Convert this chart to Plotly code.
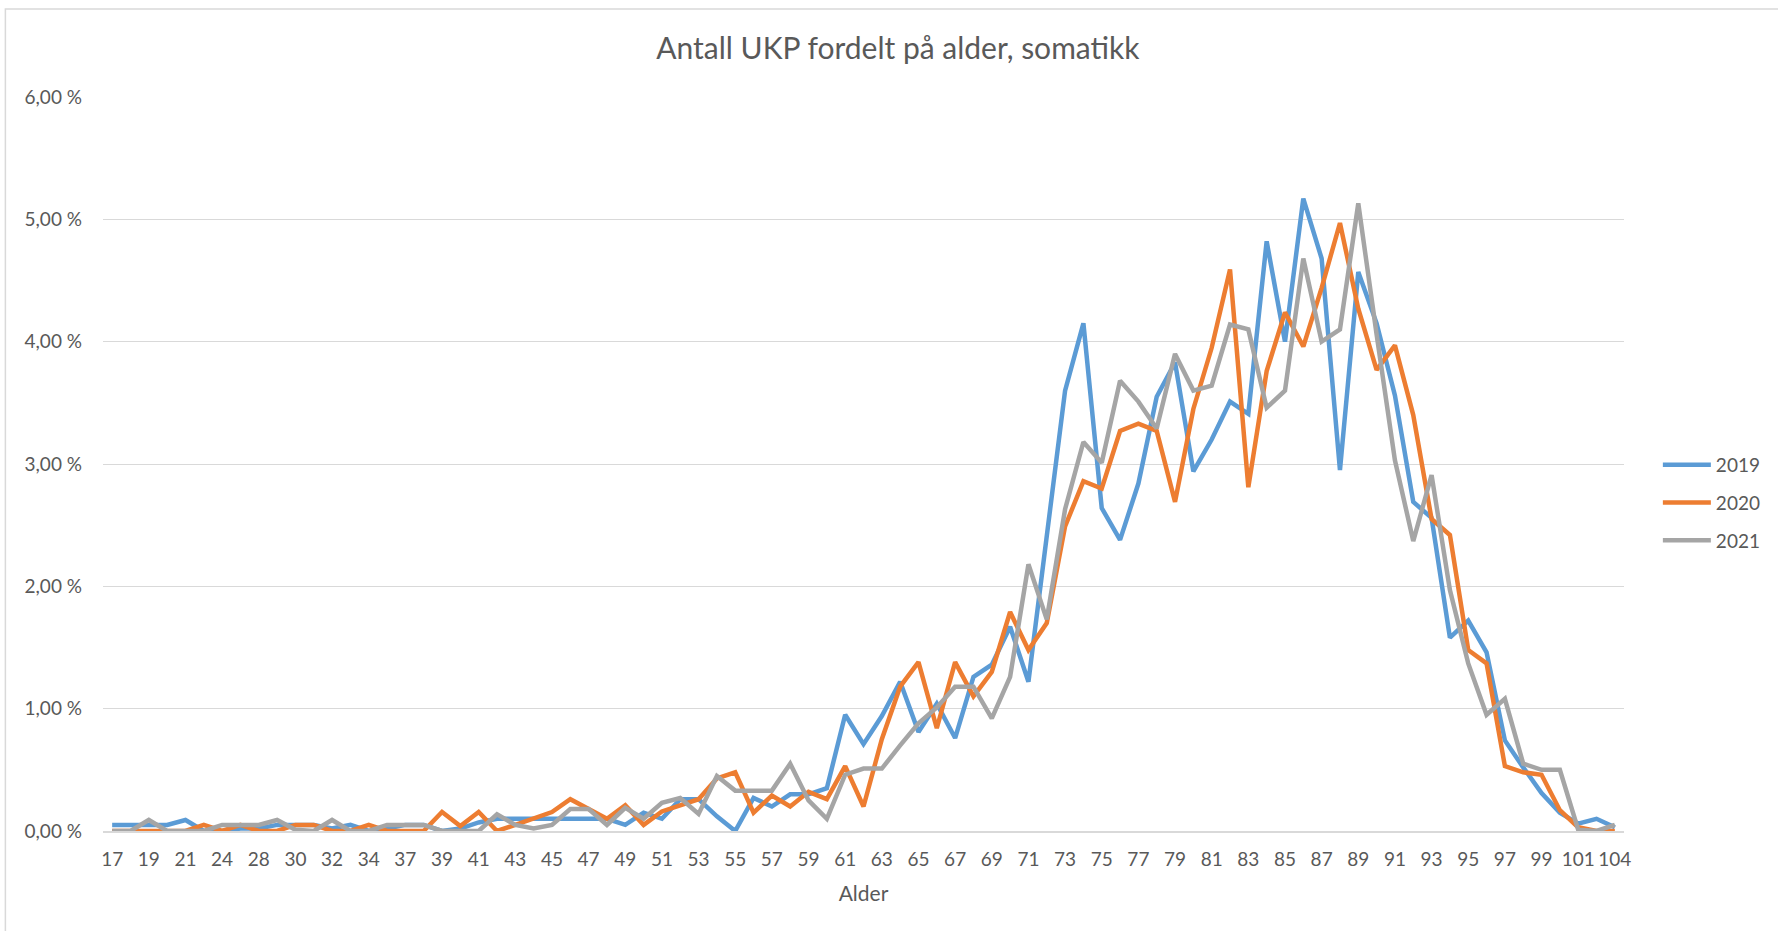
import plotly.graph_objects as go

ages = ["17", "18", "19", "20", "21", "22", "24", "26", "28", "29", "30", "31", "32", "33", "34", "35",
        "37", "38", "39", "40", "41", "42", "43", "44", "45", "46", "47", "48", "49", "50", "51", "52",
        "53", "54", "55", "56", "57", "58", "59", "60", "61", "62", "63", "64", "65", "66", "67", "68",
        "69", "70", "71", "72", "73", "74", "75", "76", "77", "78", "79", "80", "81", "82", "83", "84",
        "85", "86", "87", "88", "89", "90", "91", "92", "93", "94", "95", "96", "97", "98", "99", "100",
        "101", "102", "104"]

y2019 = [0.05, 0.05, 0.05, 0.05, 0.09, 0.00, 0.00, 0.02, 0.02, 0.05, 0.05, 0.05, 0.02, 0.05, 0.00, 0.02,
         0.05, 0.05, 0.00, 0.02, 0.07, 0.10, 0.10, 0.10, 0.10, 0.10, 0.10, 0.10, 0.05, 0.15, 0.10, 0.26,
         0.26, 0.12, 0.00, 0.27, 0.20, 0.30, 0.30, 0.35, 0.95, 0.71, 0.94, 1.22, 0.81, 1.04, 0.76, 1.26,
         1.36, 1.67, 1.22, 2.44, 3.60, 4.15, 2.64, 2.38, 2.84, 3.55, 3.83, 2.94, 3.20, 3.51, 3.41, 4.82,
         4.00, 5.17, 4.68, 2.95, 4.57, 4.15, 3.56, 2.69, 2.56, 1.58, 1.72, 1.46, 0.74, 0.52, 0.31, 0.15,
         0.06, 0.10, 0.03]

y2020 = [0.00, 0.00, 0.00, 0.00, 0.00, 0.05, 0.00, 0.05, 0.00, 0.00, 0.05, 0.05, 0.00, 0.00, 0.05, 0.00,
         0.00, 0.00, 0.155, 0.04, 0.155, 0.00, 0.05, 0.10, 0.155, 0.26, 0.18, 0.10, 0.21, 0.05, 0.16, 0.21,
         0.26, 0.43, 0.48, 0.15, 0.29, 0.20, 0.32, 0.26, 0.53, 0.20, 0.75, 1.18, 1.38, 0.84, 1.38, 1.10,
         1.30, 1.79, 1.48, 1.70, 2.49, 2.86, 2.80, 3.27, 3.33, 3.27, 2.69, 3.45, 3.95, 4.59, 2.81, 3.76,
         4.24, 3.96, 4.44, 4.97, 4.27, 3.77, 3.97, 3.40, 2.55, 2.42, 1.48, 1.37, 0.53, 0.48, 0.46, 0.17,
         0.03, 0.00, 0.00]

y2021 = [0.00, 0.00, 0.09, 0.00, 0.00, 0.00, 0.05, 0.05, 0.05, 0.09, 0.01, 0.00, 0.09, 0.00, 0.00, 0.05,
         0.05, 0.05, 0.00, 0.00, 0.00, 0.136, 0.05, 0.02, 0.05, 0.18, 0.18, 0.05, 0.19, 0.10, 0.23, 0.27,
         0.14, 0.45, 0.33, 0.33, 0.33, 0.55, 0.25, 0.10, 0.46, 0.51, 0.51, 0.70, 0.88, 1.01, 1.18, 1.18,
         0.92, 1.26, 2.18, 1.73, 2.63, 3.18, 3.01, 3.68, 3.51, 3.29, 3.90, 3.60, 3.64, 4.14, 4.10, 3.46,
         3.60, 4.68, 4.00, 4.10, 5.13, 4.06, 3.03, 2.37, 2.91, 1.97, 1.37, 0.95, 1.08, 0.55, 0.50, 0.50,
         0.01, 0.00, 0.05]

series_names = ["2019", "2020", "2021"]
series_colors = ["#5B9BD5", "#ED7D31", "#A5A5A5"]

y_ticks = [0, 1, 2, 3, 4, 5, 6]
y_ticktext = ["0,00 %", "1,00 %", "2,00 %", "3,00 %", "4,00 %", "5,00 %", "6,00 %"]

FONT = "Lato, 'Open Sans', sans-serif"
TXT = "#595959"
GRID = "#D9D9D9"

fig = go.Figure()
for name, vals, col in zip(series_names, [y2019, y2020, y2021], series_colors):
    fig.add_trace(go.Scatter(
        x=ages, y=vals, mode="lines", name=name, legendgroup=name,
        line=dict(color=col, width=4.5),
    ))

W, H = 1778, 931
L, R, T, B = 103, 148, 97, 100

fig.update_layout(
    width=W, height=H,
    margin=dict(l=L, r=R, t=T, b=B, pad=0),
    paper_bgcolor="white", plot_bgcolor="white",
    font=dict(family=FONT, color=TXT, size=19),
    title=dict(text="Antall UKP fordelt på alder, somatikk",
               font=dict(family=FONT, size=30, color=TXT),
               xref="container", yref="container", x=0.505, y=1 - 48 / H,
               xanchor="center", yanchor="middle"),
    showlegend=True,
    legend=dict(x=(1664 - L) / (W - L - R), y=(831 - 503) / (H - T - B),
                xanchor="left", yanchor="middle",
                traceorder="grouped", tracegroupgap=10, itemwidth=48,
                font=dict(family=FONT, size=19, color=TXT),
                bgcolor="rgba(0,0,0,0)"),
    xaxis=dict(
        type="category", categoryorder="array", categoryarray=ages,
        range=[-0.5, len(ages) - 0.5],
        tickmode="array", tickvals=ages[::2], ticktext=ages[::2],
        showgrid=False, showline=True, linecolor=GRID, linewidth=1.5,
        ticks="", ticklabelstandoff=10,
        tickfont=dict(family=FONT, size=19, color=TXT),
        title=dict(text="Alder", font=dict(family=FONT, size=21, color=TXT), standoff=18),
        zeroline=False, fixedrange=True,
    ),
    yaxis=dict(
        range=[0, 6], tickmode="array", tickvals=y_ticks, ticktext=y_ticktext,
        showgrid=True, gridcolor=GRID, gridwidth=1.4,
        zeroline=False, showline=False, ticks="",
        ticklabelstandoff=20,
        tickfont=dict(family=FONT, size=19, color=TXT),
        fixedrange=True,
    ),
    shapes=[dict(type="rect", xref="paper", yref="paper",
                 x0=(5 - L) / (W - L - R), x1=(W + 20 - L) / (W - L - R),
                 y0=-(H + 20 - (H - B)) / (H - T - B), y1=((H - B) - 9) / (H - T - B),
                 line=dict(color=GRID, width=1.5), fillcolor="rgba(0,0,0,0)", layer="below")],
)

fig.write_html("out.html", config={"displayModeBar": False},
               post_script="document.body.style.margin='0';document.body.style.overflow='hidden';")
